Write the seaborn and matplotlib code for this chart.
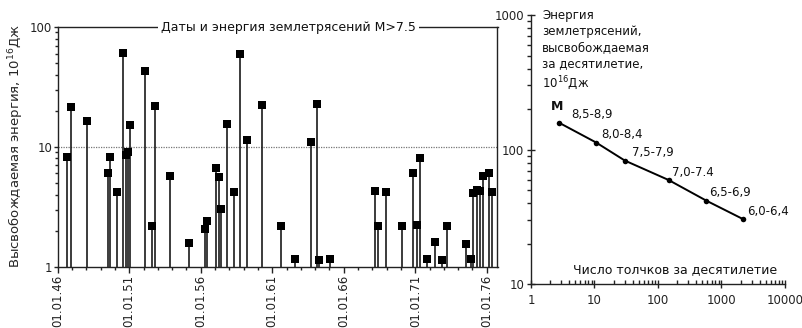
import matplotlib
matplotlib.use("Agg")
import matplotlib.pyplot as plt
import matplotlib.ticker as mticker
import numpy as np
import pandas as pd
import seaborn as sns

# ---------------- data ----------------
# left chart: dates (decimal years) and energy, 10^16 J
quake_years = [1946.63, 1946.93, 1948.07, 1949.50, 1949.68, 1950.17, 1950.59, 1950.80,
               1950.94, 1951.06, 1952.10, 1952.57, 1952.80, 1953.85, 1955.20, 1956.28,
               1956.46, 1957.07, 1957.26, 1957.44, 1957.84, 1958.33, 1958.77, 1959.26,
               1960.29, 1961.60, 1962.60, 1963.70, 1964.13, 1964.30, 1965.04, 1968.19,
               1968.42, 1968.96, 1970.08, 1970.83, 1971.15, 1971.36, 1971.85, 1972.36,
               1972.87, 1973.22, 1974.57, 1974.92, 1975.06, 1975.32, 1975.55, 1975.74,
               1976.16, 1976.37]
quake_energy = [8.3, 21.3, 16.4, 6.0, 8.3, 4.2, 61.0, 8.5,
                9.0, 15.3, 42.8, 2.17, 22.1, 5.7, 1.57, 2.07,
                2.39, 6.6, 5.6, 3.04, 15.6, 4.2, 59.8, 11.3,
                22.2, 2.17, 1.16, 11.0, 22.8, 1.13, 1.16, 4.3,
                2.17, 4.2, 2.17, 6.0, 2.22, 8.1, 1.16, 1.61,
                1.13, 2.17, 1.54, 1.16, 4.1, 4.4, 4.25, 5.7,
                6.0, 4.2]
date_ticks = [1946, 1951, 1956, 1961, 1966, 1971, 1976]
date_labels = ["01.01.46", "01.01.51", "01.01.56", "01.01.61", "01.01.66", "01.01.71", "01.01.76"]

# right chart: number of shocks per decade vs energy per decade
mag_classes = ["8,5-8,9", "8,0-8,4", "7,5-7,9", "7,0-7.4", "6,5-6,9", "6,0-6,4"]
shock_count = [2.8, 10.6, 30, 147, 577, 2180]
decade_energy = [158, 113, 83, 59.5, 41.8, 30.5]

# ---------------- style ----------------
sns.set_theme(style="ticks")
plt.rcParams["font.family"] = ["DejaVu Sans"]
plt.rcParams["axes.linewidth"] = 1.0
plt.rcParams["axes.edgecolor"] = "#222222"
plt.rcParams["xtick.color"] = "#222222"
plt.rcParams["ytick.color"] = "#222222"
plt.rcParams["text.color"] = "#111111"

W, H = 803, 328
fig = plt.figure(figsize=(W / 100, H / 100), dpi=100)
fig.patch.set_facecolor("white")

def box(x0, x1, ytop, ybot):
    return [x0 / W, (H - ybot) / H, (x1 - x0) / W, (ybot - ytop) / H]

# ---------------- left chart ----------------
ax = fig.add_axes(box(57.7, 497.5, 27, 266.7))
ax.set_facecolor("white")
df = pd.DataFrame({"year": quake_years, "energy": quake_energy})
ax.set_yscale("log")
ax.set_ylim(1, 100)
ax.set_xlim(1946, 1976.75)
ax.vlines(df["year"], 1, df["energy"], colors="#1a1a1a", linewidth=1.2, zorder=2)
sns.scatterplot(data=df, x="year", y="energy", marker="s", s=28, color="black",
                edgecolor="black", linewidth=0, ax=ax, zorder=3, clip_on=False)
ax.axhline(10, color="#777777", linestyle=(0, (1, 1)), linewidth=0.9, zorder=1)
ax.set_xticks(date_ticks)
ax.set_xticklabels(date_labels, rotation=90, fontsize=8.5)
ax.xaxis.set_minor_locator(mticker.MultipleLocator(1))
ax.set_yticks([1, 10, 100])
ax.set_yticklabels(["1", "10", "100"], fontsize=8.5)
ax.yaxis.set_minor_locator(mticker.LogLocator(base=10, subs=np.arange(2, 10)))
ax.yaxis.set_minor_formatter(mticker.NullFormatter())
ax.tick_params(axis="x", which="major", length=4, width=1, pad=2)
ax.tick_params(axis="y", which="major", length=3, width=1, pad=1)
ax.tick_params(axis="both", which="minor", length=2, width=1)
ax.set_xlabel("")
ax.set_ylabel("Высвобождаемая энергия, 10$^{16}$Дж", fontsize=9.5)
ax.yaxis.set_label_coords(-0.072, 0.505)
for s in ["top", "right", "left", "bottom"]:
    ax.spines[s].set_visible(True)
ax.text(0.525, 1.0, "Даты и энергия землетрясений M>7.5", transform=ax.transAxes,
        ha="center", va="center", fontsize=9,
        bbox=dict(facecolor="white", edgecolor="none", pad=2), zorder=5)

# ---------------- right chart ----------------
ax2 = fig.add_axes(box(531, 785, 15, 284.3))
ax2.set_facecolor("white")
df2 = pd.DataFrame({"count": shock_count, "energy": decade_energy, "cls": mag_classes})
ax2.set_xscale("log")
ax2.set_yscale("log")
ax2.set_xlim(1, 10000)
ax2.set_ylim(10, 1000)
sns.lineplot(data=df2, x="count", y="energy", color="black", linewidth=1.4,
             marker="o", markersize=4, markeredgewidth=0, ax=ax2, sort=False)
dx = [12, 5, 7, 3, 3, 4]
for i, row in df2.iterrows():
    ax2.annotate(row["cls"], (row["count"], row["energy"]), xytext=(dx[i], 8),
                 textcoords="offset pixels", ha="left", va="center", fontsize=8.5)
ax2.annotate("M", (shock_count[0], decade_energy[0]), xytext=(-2, 16),
             textcoords="offset pixels", ha="center", va="center",
             fontsize=9, fontweight="bold")
ax2.text(0.043, 1.022, "Энергия\nземлетрясений,\nвысвобождаемая\nза десятилетие,\n10$^{16}$Дж",
         transform=ax2.transAxes, ha="left", va="top", fontsize=8.5, linespacing=1.3)
ax2.text(0.97, 0.055, "Число толчков за десятилетие", transform=ax2.transAxes,
         ha="right", va="center", fontsize=9)
ax2.set_xticks([1, 10, 100, 1000, 10000])
ax2.set_xticklabels(["1", "10", "100", "1000", "10000"], fontsize=8.5)
ax2.set_yticks([10, 100, 1000])
ax2.set_yticklabels(["10", "100", "1000"], fontsize=8.5)
ax2.xaxis.set_minor_locator(mticker.LogLocator(base=10, subs=np.arange(2, 10)))
ax2.yaxis.set_minor_locator(mticker.LogLocator(base=10, subs=np.arange(2, 10)))
ax2.xaxis.set_minor_formatter(mticker.NullFormatter())
ax2.yaxis.set_minor_formatter(mticker.NullFormatter())
ax2.tick_params(axis="x", which="major", direction="inout", length=6, width=1, pad=4)
ax2.tick_params(axis="x", which="minor", direction="in", length=3, width=1)
ax2.tick_params(axis="y", which="major", direction="inout", length=6, width=1, pad=2)
ax2.tick_params(axis="y", which="minor", direction="out", length=3, width=1)
ax2.set_xlabel("")
ax2.set_ylabel("")
sns.despine(ax=ax2, top=True, right=True)

fig.savefig("out.png", dpi=100, facecolor="white")
